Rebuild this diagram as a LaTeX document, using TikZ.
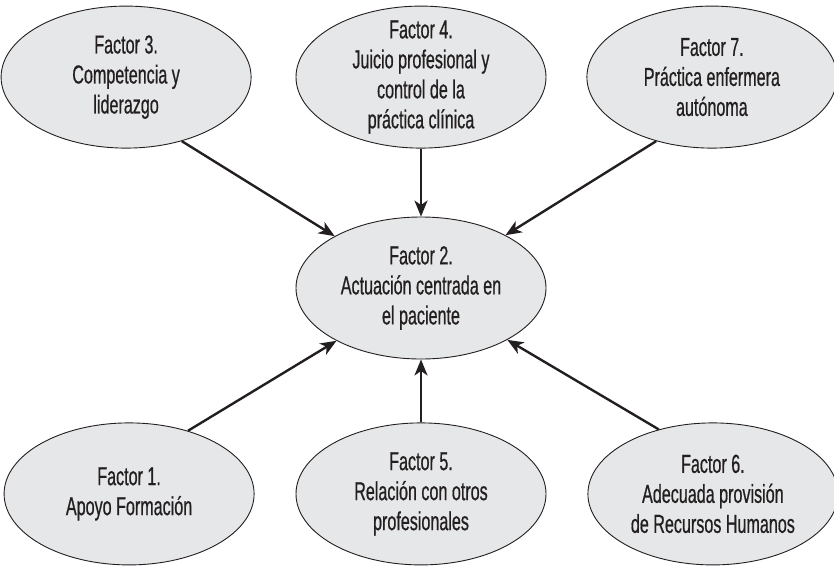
\documentclass[tikz,border=0pt]{standalone}
\usepackage{fontspec}
\setmainfont{Liberation Sans}[FakeStretch=0.62, FakeBold=0.6]
\usetikzlibrary{shapes,arrows.meta,positioning}
\definecolor{inkgray}{HTML}{231F20}
\definecolor{ovalfill}{HTML}{E6E7E8}

\begin{document}
\begin{tikzpicture}[
    node distance=1cm,
    factor/.style={ellipse, draw=inkgray, line width=0.9pt, fill=ovalfill, inner sep=0pt, minimum width=250pt, minimum height=142pt, align=center, text=inkgray, font=\fontsize{26}{30}\selectfont},
    arrow/.style={-{Stealth[length=16pt, width=13pt, inset=4.5pt]}, line width=2.4pt, draw=inkgray}
]
    \useasboundingbox (0,0) rectangle (834pt,-565pt);

    % Central factor
    \node[factor] (f2) at (421pt,-288pt) {Factor 2.\\Actuación centrada en\\el paciente};

    % Upper row
    \node[factor, above=68pt of f2, inner ysep=-9pt] (f4) {Factor 4.\\Juicio profesional y\\control de la\\práctica clínica};
    \node[factor, left=44pt of f4] (f3) {Factor 3.\\Competencia y\\liderazgo};
    \node[factor, right=40pt of f4] (f7) {Factor 7.\\Práctica enfermera\\autónoma};

    % Lower row
    \node[factor, below=63pt of f2] (f5) {Factor 5.\\Relación con otros\\profesionales};
    \node[factor, left=41pt of f5] (f1) {Factor 1.\\Apoyo Formación};
    \node[factor, right=41pt of f5] (f6) {Factor 6.\\Adecuada provisión\\de Recursos Humanos};

    % Arrows
    \draw[arrow] (f3.-49) -- (f2.149);
    \draw[arrow] (f4) -- (f2);
    \draw[arrow] (f7.-131) -- (f2.32);
    \draw[arrow] (f1.47) -- (f2.-148);
    \draw[arrow] (f5) -- (f2);
    \draw[arrow] (f6.130) -- (f2.-31);

\end{tikzpicture}
\end{document}
